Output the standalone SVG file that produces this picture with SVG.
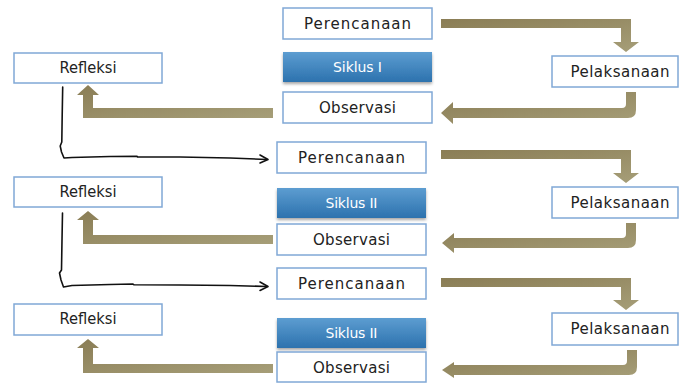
<svg xmlns="http://www.w3.org/2000/svg" width="680" height="383" viewBox="0 0 680 383">
  <defs>
    <linearGradient id="olive" x1="0" y1="0" x2="1" y2="1">
      <stop offset="0" stop-color="#8a7d55"/>
      <stop offset="1" stop-color="#a69e78"/>
    </linearGradient>
    <linearGradient id="blue" x1="0" y1="0" x2="0" y2="1">
      <stop offset="0" stop-color="#5d9dd1"/>
      <stop offset="1" stop-color="#2c72ae"/>
    </linearGradient>
    <filter id="shadow" x="-10%" y="-20%" width="120%" height="160%">
      <feDropShadow dx="0" dy="2" stdDeviation="1.5" flood-color="#000" flood-opacity="0.35"/>
    </filter>
    <style>
      .box { fill: #ffffff; stroke: #80a8d6; stroke-width: 1.5; }
      .cyc { fill: url(#blue); filter: url(#shadow); }
      .lbl { font-family: "DejaVu Sans", "Liberation Sans", sans-serif; font-size: 15px; fill: #222222; text-anchor: middle; }
      .cyc-lbl { font-family: "DejaVu Sans", "Liberation Sans", sans-serif; font-size: 14px; fill: #ffffff; text-anchor: middle; }
      .flow { fill: url(#olive); }
      .hand { fill: none; stroke: #111111; stroke-width: 1.6; stroke-linecap: round; stroke-linejoin: round; }
    </style>
  </defs>

  <!-- Cycle 1 -->
  <g id="perencanaan-1">
    <rect class="box" x="283" y="8" width="149" height="31"/>
    <text class="lbl" x="357.5" y="29" textLength="107" lengthAdjust="spacing">Perencanaan</text>
  </g>
  <g id="siklus-1">
    <rect class="cyc" x="283" y="52" width="149" height="30"/>
    <text class="cyc-lbl" x="357.5" y="72" textLength="49" lengthAdjust="spacing">Siklus I</text>
  </g>
  <g id="observasi-1">
    <rect class="box" x="283" y="92" width="149" height="31"/>
    <text class="lbl" x="357.5" y="113" textLength="77" lengthAdjust="spacing">Observasi</text>
  </g>
  <g id="pelaksanaan-1">
    <rect class="box" x="552" y="56" width="126" height="31"/>
    <text class="lbl" x="620" y="77" textLength="99" lengthAdjust="spacing">Pelaksanaan</text>
  </g>
  <g id="refleksi-1">
    <rect class="box" x="14" y="53" width="148" height="30"/>
    <text class="lbl" x="88" y="73" textLength="57" lengthAdjust="spacingAndGlyphs">Refleksi</text>
  </g>

  <!-- Cycle 2 -->
  <g id="perencanaan-2">
    <rect class="box" x="277" y="142" width="149" height="31"/>
    <text class="lbl" x="351.5" y="163" textLength="107" lengthAdjust="spacing">Perencanaan</text>
  </g>
  <g id="siklus-2">
    <rect class="cyc" x="277" y="188" width="149" height="30"/>
    <text class="cyc-lbl" x="351.5" y="208" textLength="52" lengthAdjust="spacing">Siklus II</text>
  </g>
  <g id="observasi-2">
    <rect class="box" x="277" y="224" width="149" height="31"/>
    <text class="lbl" x="351.5" y="245" textLength="77" lengthAdjust="spacing">Observasi</text>
  </g>
  <g id="pelaksanaan-2">
    <rect class="box" x="552" y="187" width="126" height="31"/>
    <text class="lbl" x="620" y="208" textLength="99" lengthAdjust="spacing">Pelaksanaan</text>
  </g>
  <g id="refleksi-2">
    <rect class="box" x="14" y="177" width="148" height="30"/>
    <text class="lbl" x="88" y="197" textLength="57" lengthAdjust="spacingAndGlyphs">Refleksi</text>
  </g>

  <!-- Cycle 3 -->
  <g id="perencanaan-3">
    <rect class="box" x="277" y="268" width="149" height="31"/>
    <text class="lbl" x="351.5" y="289" textLength="107" lengthAdjust="spacing">Perencanaan</text>
  </g>
  <g id="siklus-3">
    <rect class="cyc" x="277" y="318" width="149" height="30"/>
    <text class="cyc-lbl" x="351.5" y="338" textLength="52" lengthAdjust="spacing">Siklus II</text>
  </g>
  <g id="observasi-3">
    <rect class="box" x="277" y="352" width="149" height="30"/>
    <text class="lbl" x="351.5" y="373" textLength="77" lengthAdjust="spacing">Observasi</text>
  </g>
  <g id="pelaksanaan-3">
    <rect class="box" x="552" y="313" width="126" height="32"/>
    <text class="lbl" x="620" y="334" textLength="99" lengthAdjust="spacing">Pelaksanaan</text>
  </g>
  <g id="refleksi-3">
    <rect class="box" x="14" y="304" width="148" height="31"/>
    <text class="lbl" x="88" y="324" textLength="57" lengthAdjust="spacingAndGlyphs">Refleksi</text>
  </g>

  <!-- Connectors -->
  <g id="connectors">
    <!-- planning to action: right then down -->
    <path class="flow" d="M441,19 H631 V42 H639 L626,52 L613,42 H621 V28 H441 Z"/>
    <path class="flow" d="M441,150 H631 V173 H639 L626,183 L613,173 H621 V159 H441 Z"/>
    <path class="flow" d="M441,278 H631 V300 H639 L626,310 L613,300 H621 V287 H441 Z"/>

    <!-- action to observation: down then left, rounded corner -->
    <path class="flow" d="M626,92 H636 V110 Q636,118 628,118 H453 V124 L441,113 L453,102 V108 H622 Q626,108 626,104 Z"/>
    <path class="flow" d="M626,223 H636 V240 Q636,248 628,248 H454 V253 L442,243 L454,233 V238 H622 Q626,238 626,234 Z"/>
    <path class="flow" d="M627,350 H637 V367 Q637,375 629,375 H454 V378 L442,370 L454,362 V365 H623 Q627,365 627,361 Z"/>

    <!-- observation to reflection: left then up -->
    <path class="flow" d="M273,108 V118 H83 V95 H77 L88,85 L99,95 H93 V108 Z"/>
    <path class="flow" d="M273,235 V244 H83 V220 H77 L88,211 L99,220 H93 V235 Z"/>
    <path class="flow" d="M273,364 V373 H83 V348 H77 L88,339 L99,348 H93 V364 Z"/>

    <!-- reflection to next planning: hand-drawn lines -->
    <path class="hand" d="M62.7,87 L62.2,115 L61.8,142 L60.2,146 L61.5,152 L64,158 L72,157.5 L110,156.5 L137,156.3 L137.5,157 L180,157 L230,158 L267,159.5"/>
    <path class="hand" d="M260,155 L268,159.5 L260,163"/>
    <path class="hand" d="M62.5,213 L62,240 L61.5,270 L59.5,273 L61,280 L63.5,287 L72,285.5 L110,284.5 L133,284 L134,284.8 L180,285 L230,285.5 L267,286.5"/>
    <path class="hand" d="M260,282 L268,286.5 L260,290.5"/>
  </g>
</svg>
